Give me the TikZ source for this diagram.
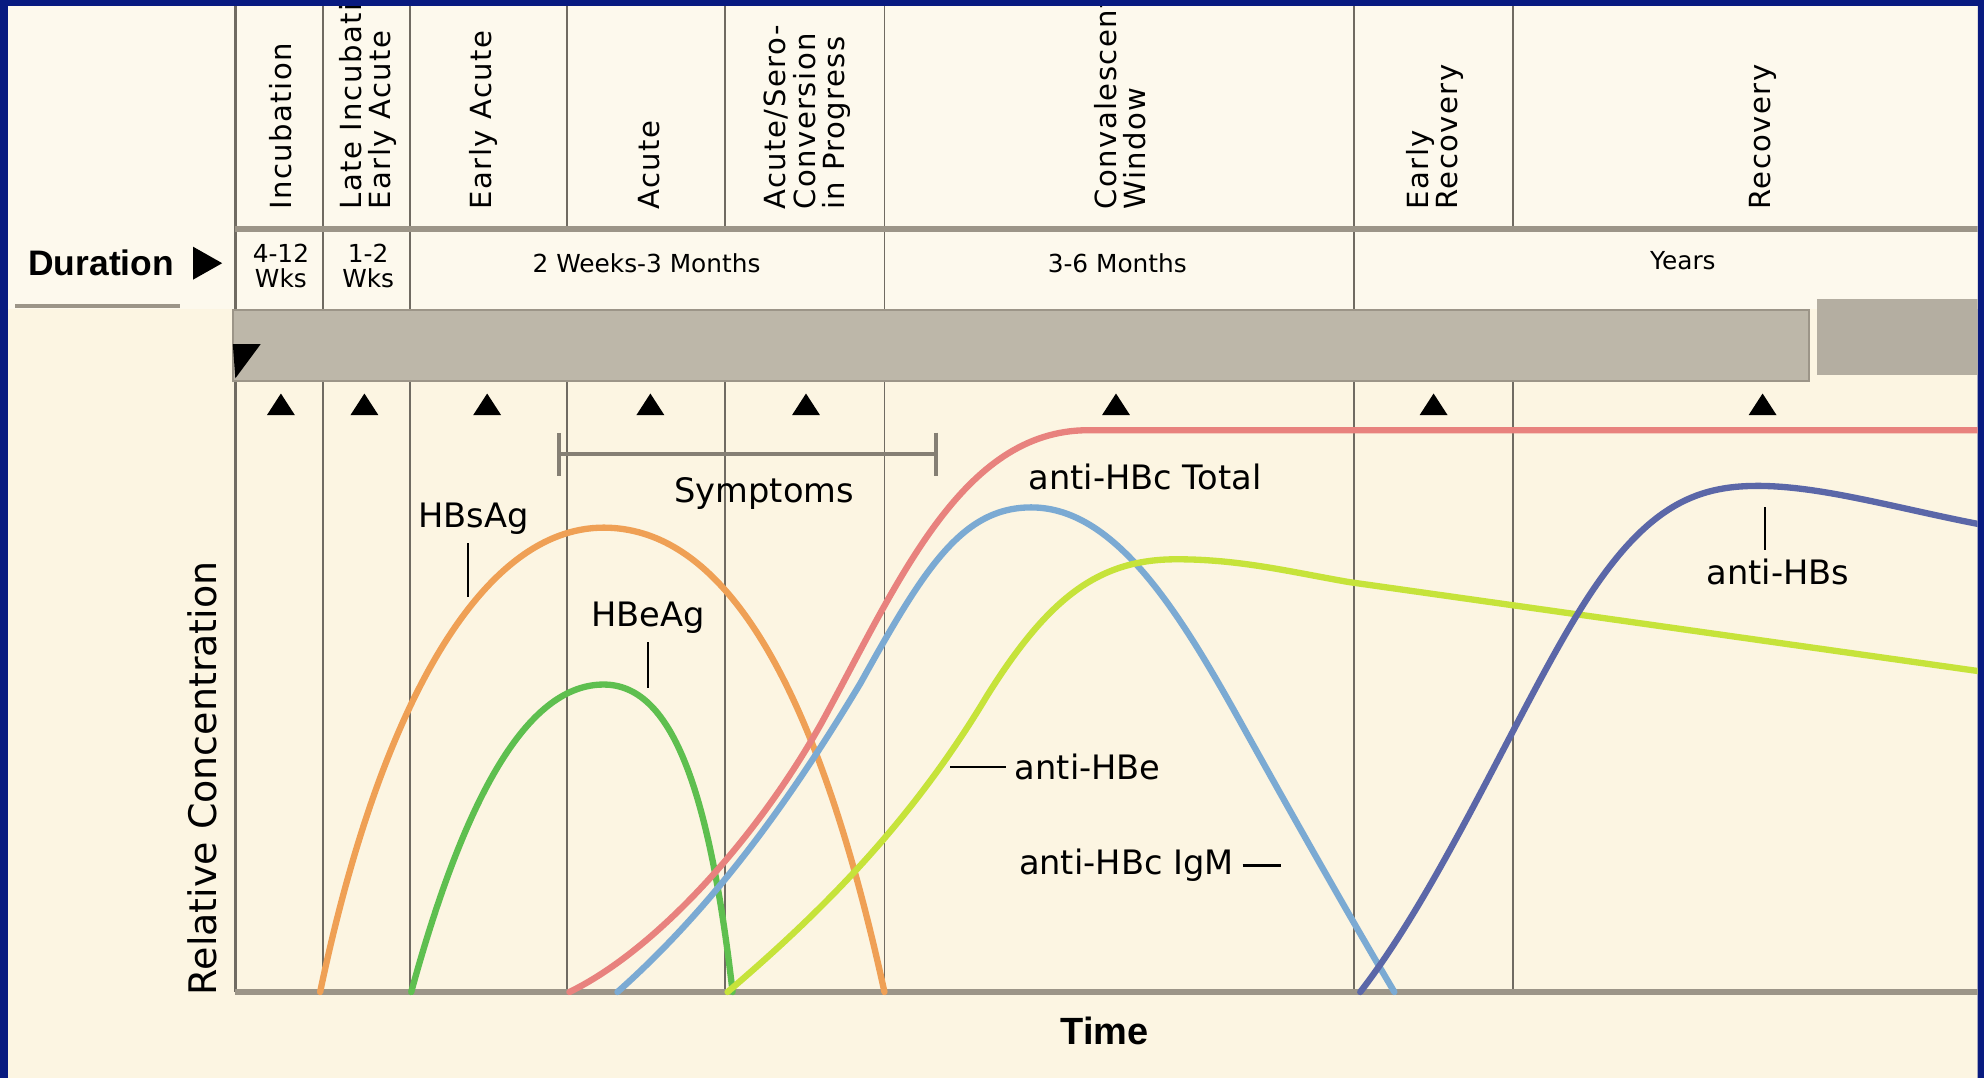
\documentclass[tikz,border=0pt]{standalone}
\usepackage{fontspec}
\setmainfont{DejaVu Sans}
\newfontfamily\arialfont{Liberation Sans}
\usetikzlibrary{positioning,arrows.meta,calc}
\definecolor{frameBlue}{RGB}{8,26,128}
\definecolor{paper}{RGB}{252,245,226}
\definecolor{paperTop}{RGB}{253,249,237}
\definecolor{rule}{RGB}{156,149,136}
\definecolor{gridGrey}{RGB}{112,107,98}
\definecolor{barGrey}{RGB}{189,183,169}
\definecolor{cOrange}{RGB}{239,160,85}
\definecolor{cGreen}{RGB}{94,191,79}
\definecolor{cRed}{RGB}{232,130,126}
\definecolor{cLightBlue}{RGB}{123,170,211}
\definecolor{cLime}{RGB}{198,227,58}
\definecolor{cDarkBlue}{RGB}{91,103,168}
\def\plotL{186}
\def\plotR{1568}
\def\axisY{784}
\def\curveW{2.5pt}
\tikzset
{
  GridLine/.style={draw=gridGrey, line width=0.7pt},
  RuleLine/.style={draw=rule, line width=2pt},
  Curve/.style={line width=\curveW, line cap=round},
  Leader/.style={draw=black, line width=0.9pt},
  PhaseLabel/.style=
  {
    rotate=90, anchor=west, inner sep=0pt, align=left,
    font=\fontsize{11.5}{11.5}\selectfont\addfontfeatures{LetterSpace=5},
  },
  DurText/.style={font=\fontsize{9.8}{10}\selectfont, inner sep=0pt},
  CurveLabel/.style={font=\fontsize{13.3}{13.3}\selectfont},
  Marker/.style={fill=black},
}

\begin{document}
\begin{tikzpicture}
[
  x=0.5pt, y=-0.5pt, % one unit is one pixel of the reference
  every node/.style={align=center},
]
\useasboundingbox (0,0) rectangle (1568,852);
\fill[frameBlue] (0,0) rectangle (1568,852);
\begin{scope}
  \clip (6,5) rectangle (1563,852);
  \fill[paper] (6,5) rectangle (1563,852);
  \fill[paperTop] (6,5) rectangle (1563,244);

  % phase columns
  \foreach \x in {255,324,448,573,699,1070,1196}
  {
    \draw[GridLine] (\x,5) -- (\x,181);
    \draw[GridLine] (\x,300) -- (\x,\axisY);
  }
  \foreach \x in {255,324,699,1070}
    \draw[GridLine] (\x,181) -- (\x,244);
  \draw[draw=gridGrey, line width=1.2pt] (\plotL,5) -- (\plotL,\axisY);
  \draw[RuleLine] (\plotL,181) -- (\plotR,181);

  \node[PhaseLabel] (phIncub) at (222,166) {Incubation};
  \node[PhaseLabel] (phLateInc) at (291,166) {Late Incubation\\Early Acute};
  \node[PhaseLabel] (phEarlyAcute) at (382,166) {Early Acute};
  \node[PhaseLabel] (phAcute) at (513,166) {Acute};
  \node[PhaseLabel] (phSero) at (638,166) {Acute/Sero-\\Conversion\\in Progress};
  \node[PhaseLabel] (phConv) at (885,166) {Convalescent\\Window};
  \node[PhaseLabel] (phEarlyRec) at (1134,166) {Early\\Recovery};
  \node[PhaseLabel] (phRec) at (1393,166) {Recovery};

  % duration row
  \node[font=\arialfont\bfseries\fontsize{14}{14}\selectfont] (durLabel) at (80,208) {Duration};
  \fill ($(durLabel.east)+(8,-13)$) -- ++(23,13) -- ++(-23,13) -- cycle;
  \draw[RuleLine, line width=1.8pt] (12,242) -- (142,242);
  \node[DurText] (durIncub) at (222,210) {4-12\\Wks};
  \node[DurText] (durLate) at (291,210) {1-2\\Wks};
  \node[DurText] (durAcute) at (511,208) {2 Weeks-3 Months};
  \node[DurText] (durConv) at (883,208) {3-6 Months};
  \node[DurText] (durRec) at (1330,206) {Years};

  % time bar
  \fill[barGrey, draw=rule, line width=0.8pt] (184,245) rectangle (1430,301);
  \fill[barGrey!95!black] (1436,236) rectangle (1568,296);
  \fill (184,272) -- (206,272) -- (186,299) -- cycle;
  \foreach \x in {222,288,385,514,637,882,1133,1393}
    \fill[Marker] (\x-11,328) -- (\x+11,328) -- (\x,311) -- cycle;

  % axes
  \draw[RuleLine] (\plotL,\axisY) -- (\plotR,\axisY);
  \node[font=\fontsize{15}{15}\selectfont, rotate=90] (axisConc) at (160,615) {Relative Concentration};
  \node[font=\arialfont\bfseries\fontsize{15}{15}\selectfont] (axisTime) at (873,815) {Time};

  % symptoms bracket
  \coordinate (sympL) at (440,359);
  \coordinate (sympR) at (741,359);
  \draw[draw=rule!85!black, line width=1.5pt, {Bar[width=17pt]}-{Bar[width=17pt]}] (sympL) -- (sympR);
  \node[CurveLabel] (lblSymptoms) at (604,390) {Symptoms};

  % marker curves
  \draw[Curve, cOrange] (253,784) .. controls (300,560) and (380,417) .. (477,417)
    .. controls (580,417) and (650,560) .. (699,784);
  \draw[Curve, cGreen] (325,784) .. controls (370,620) and (420,541) .. (477,541)
    .. controls (530,541) and (560,620) .. (579,784);
  \draw[Curve, cRed] (450,784) .. controls (520,750) and (600,660) .. (650,570)
    .. controls (710,460) and (760,340) .. (860,340) -- (1568,340);
  \draw[Curve, cLightBlue] (488,784) .. controls (560,720) and (620,640) .. (680,540)
    .. controls (730,450) and (760,401) .. (815,401)
    .. controls (880,401) and (930,480) .. (980,570)
    .. controls (1030,660) and (1070,730) .. (1102,784);
  \draw[Curve, cLime] (575,784) .. controls (650,720) and (720,650) .. (780,550)
    .. controls (830,470) and (870,442) .. (930,442)
    .. controls (980,442) and (1020,452) .. (1066,460) -- (1568,531);
  \draw[Curve, cDarkBlue] (1075,784) .. controls (1140,700) and (1200,560) .. (1250,480)
    .. controls (1300,400) and (1340,384) .. (1389,384)
    .. controls (1440,384) and (1500,402) .. (1568,415);

  % labels and leaders
  \node[CurveLabel] (lblHBsAg) at (374,410) {HBsAg};
  \draw[Leader] ([xshift=-2pt]lblHBsAg.south) -- ++(0,42);
  \node[CurveLabel] (lblHBeAg) at (512,488) {HBeAg};
  \draw[Leader] (lblHBeAg.south) -- ++(0,36);
  \node[CurveLabel] (lblTotal) at (905,377) {anti-HBc Total};
  \node[CurveLabel, anchor=west] (lblAntiHBe) at (795,606) {anti-HBe};
  \draw[Leader] (lblAntiHBe.west) -- ++(-44,0);
  \node[CurveLabel, anchor=east] (lblIgM) at (982,684) {anti-HBc IgM};
  \draw[Leader] (lblIgM.east) -- ++(30,0);
  \node[CurveLabel] (lblAntiHBs) at (1405,452) {anti-HBs};
  \draw[Leader] ([xshift=-5pt]lblAntiHBs.north) -- ++(0,-34);
\end{scope}
\end{tikzpicture}
\end{document}
